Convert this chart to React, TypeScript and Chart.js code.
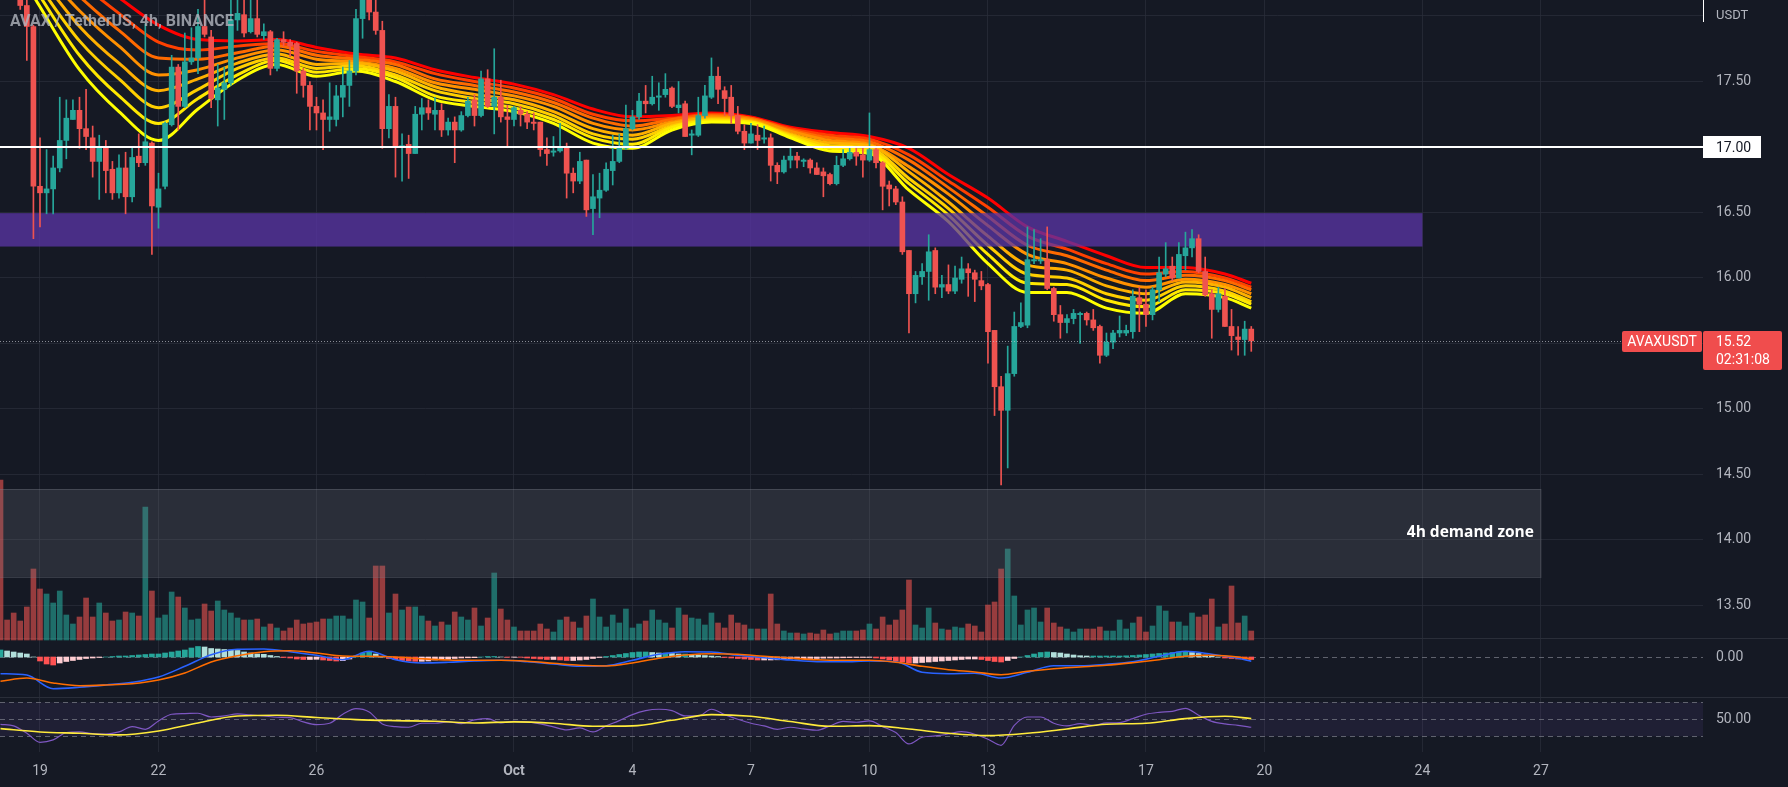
import React, { useEffect, useRef } from "react";
import { Chart, registerables } from "chart.js";

Chart.register(...registerables);

// ---------------- data (4h candles, AVAX / TetherUS) ----------------
const opens = [
  18.90,18.50,18.45,18.25,18.08,17.92,16.70,16.65,16.68,16.84,
  17.05,17.21,17.28,17.14,17.07,16.89,17.00,16.83,16.65,16.84,
  16.62,16.93,16.88,17.03,16.54,16.70,17.17,17.61,17.31,17.65,
  17.68,17.92,17.84,17.36,17.44,17.49,17.97,18.01,17.88,17.98,
  17.85,17.88,17.60,17.82,17.80,17.79,17.58,17.47,17.31,17.26,
  17.21,17.21,17.38,17.47,17.58,17.98,18.20,18.03,17.89,17.14,
  17.31,17.00,17.02,16.95,17.25,17.30,17.25,17.28,17.13,17.19,
  17.13,17.24,17.36,17.24,17.52,17.31,17.38,17.23,17.21,17.28,
  17.25,17.19,17.19,16.98,16.96,16.97,17.00,16.80,16.74,16.90,
  16.53,16.61,16.67,16.82,16.89,16.99,17.14,17.23,17.35,17.33,
  17.38,17.40,17.45,17.30,17.33,17.09,17.09,17.24,17.38,17.54,
  17.43,17.38,17.24,17.12,17.03,17.09,17.06,17.07,16.86,16.81,
  16.90,16.93,16.89,16.90,16.84,16.81,16.79,16.72,16.86,16.91,
  16.96,16.94,16.90,16.98,16.88,16.71,16.68,16.58,16.21,15.88,
  16.01,16.05,16.21,15.93,15.95,15.90,15.99,16.07,16.04,15.98,
  15.95,15.60,15.17,14.99,15.27,15.63,15.64,16.13,16.13,16.14,
  15.92,15.72,15.66,15.69,15.72,15.73,15.68,15.63,15.41,15.51,
  15.58,15.58,15.59,15.85,15.80,15.72,15.91,16.03,16.09,16.00,
  16.17,16.23,16.30,16.05,15.88,15.76,15.86,15.63,15.55,15.53,15.61,
];
const highs = [
  19.00,18.70,18.60,18.30,18.12,17.93,17.07,16.98,16.93,17.38,
  17.36,17.36,17.38,17.44,17.16,17.09,17.05,16.89,16.94,16.96,
  16.99,17.10,17.94,17.04,16.80,17.19,17.70,17.63,17.87,17.91,
  18.05,18.15,17.89,17.63,17.61,18.15,18.25,18.20,18.20,18.15,
  17.94,17.89,17.83,17.88,17.82,17.80,17.60,17.50,17.38,17.36,
  17.49,17.47,17.61,17.66,18.05,18.30,18.30,18.13,17.96,17.40,
  17.38,17.10,17.09,17.31,17.37,17.36,17.38,17.33,17.22,17.23,
  17.27,17.38,17.40,17.58,17.59,17.75,17.51,17.32,17.31,17.31,
  17.27,17.26,17.19,17.07,17.08,17.18,17.03,16.84,16.96,16.90,
  16.79,16.80,16.88,17.09,17.10,17.32,17.28,17.41,17.47,17.54,
  17.49,17.56,17.46,17.50,17.35,17.13,17.38,17.47,17.68,17.61,
  17.46,17.47,17.31,17.17,17.18,17.17,17.16,17.10,16.88,16.93,
  16.99,16.96,16.91,16.91,16.88,16.84,16.80,16.93,16.98,16.99,
  16.99,16.99,17.26,17.00,16.89,16.74,16.70,16.62,16.21,16.05,
  16.11,16.33,16.23,16.02,16.10,16.09,16.16,16.11,16.06,16.05,
  15.96,15.60,15.25,15.48,15.74,15.81,16.39,16.37,16.30,16.39,
  15.93,15.79,15.72,15.76,15.74,15.74,15.76,15.64,15.58,15.60,
  15.71,15.64,15.91,15.93,15.91,15.93,16.16,16.27,16.16,16.27,
  16.35,16.37,16.33,16.16,15.91,15.93,15.92,15.76,15.63,15.67,15.63,
];
const lows = [
  18.40,18.30,18.20,18.05,17.66,16.30,16.39,16.49,16.49,16.81,
  16.91,17.21,16.99,16.98,16.77,16.60,16.65,16.60,16.61,16.49,
  16.58,16.85,16.86,16.18,16.38,16.68,17.16,17.13,17.30,17.63,
  17.56,17.84,17.30,17.16,17.21,17.47,17.89,17.84,17.87,17.84,
  17.82,17.55,17.58,17.77,17.69,17.41,17.38,17.13,17.13,16.98,
  17.12,17.16,17.23,17.31,17.55,17.83,17.97,17.86,16.99,17.07,
  16.77,16.74,16.76,16.95,17.13,17.21,17.13,17.08,17.09,16.88,
  17.12,17.23,17.16,17.23,17.30,17.10,17.19,17.00,17.16,17.16,
  17.14,17.13,16.93,16.86,16.93,16.96,16.61,16.65,16.72,16.47,
  16.33,16.46,16.66,16.71,16.88,16.98,17.13,17.21,17.26,17.32,
  17.28,17.38,17.30,17.26,17.08,16.94,17.08,17.22,17.37,17.33,
  17.24,17.18,17.10,16.98,17.03,16.98,17.03,16.74,16.72,16.80,
  16.84,16.84,16.85,16.80,16.79,16.62,16.71,16.71,16.85,16.90,
  16.86,16.77,16.89,16.84,16.52,16.55,16.56,16.18,15.58,15.81,
  15.95,15.83,15.88,15.85,15.88,15.88,15.96,15.86,15.82,15.91,
  15.35,14.95,14.42,14.55,15.25,15.62,15.62,16.11,16.11,15.91,
  15.67,15.54,15.58,15.65,15.50,15.64,15.60,15.35,15.40,15.46,
  15.55,15.56,15.54,15.59,15.63,15.68,15.82,16.01,15.98,16.00,
  16.06,16.16,16.04,15.86,15.54,15.74,15.63,15.45,15.41,15.41,15.44,
];
const closes = [
  18.50,18.45,18.25,18.08,17.92,16.70,16.65,16.68,16.84,17.05,
  17.22,17.28,17.14,17.08,16.89,17.00,16.82,16.65,16.84,16.62,
  16.92,16.88,17.04,16.55,16.68,17.18,17.61,17.31,17.65,17.68,
  17.92,17.86,17.37,17.45,17.49,17.97,18.02,17.87,17.98,17.86,
  17.88,17.60,17.82,17.80,17.77,17.58,17.47,17.31,17.26,17.21,
  17.23,17.39,17.47,17.58,17.98,18.20,18.03,17.89,17.14,17.31,
  17.00,17.01,16.95,17.25,17.30,17.26,17.28,17.13,17.19,17.13,
  17.24,17.35,17.24,17.52,17.31,17.38,17.23,17.21,17.30,17.25,
  17.19,17.18,16.98,16.95,16.97,17.00,16.80,16.74,16.89,16.52,
  16.62,16.67,16.83,16.89,16.99,17.14,17.23,17.35,17.33,17.38,
  17.39,17.44,17.31,17.32,17.08,17.10,17.24,17.39,17.54,17.44,
  17.37,17.24,17.12,17.03,17.10,17.05,17.07,16.86,16.81,16.90,
  16.93,16.90,16.90,16.84,16.79,16.78,16.72,16.86,16.91,16.96,
  16.93,16.90,16.98,16.88,16.70,16.68,16.58,16.20,15.88,16.02,
  16.05,16.20,15.93,15.95,15.90,16.00,16.07,16.04,15.99,15.94,
  15.59,15.17,14.99,15.27,15.63,15.66,16.14,16.14,16.14,15.92,
  15.72,15.66,15.69,15.73,15.73,15.68,15.62,15.41,15.51,15.58,
  15.60,15.60,15.86,15.80,15.72,15.91,16.04,16.07,16.00,16.18,
  16.23,16.30,16.05,15.87,15.76,15.88,15.63,15.56,15.53,15.61,15.52,
];
// volume, thousand AVAX
const volumes = [
  160,20,27,19,33,71,51,46,37,49,
  25,16,23,42,23,37,27,19,20,28,
  27,24,133,49,22,25,48,43,32,20,
  21,36,29,39,30,27,22,20,20,21,
  13,16,12,9,12,20,16,17,18,21,
  21,24,24,21,40,38,22,74,74,27,
  46,30,33,33,24,19,14,18,15,28,
  23,20,32,14,22,67,31,20,13,9,
  9,9,16,11,8,20,23,18,12,24,
  41,23,13,25,17,31,12,16,19,30,
  20,17,12,32,25,22,21,15,27,17,
  12,25,17,15,11,11,11,46,16,9,
  7,7,6,7,6,10,6,7,9,9,
  9,10,16,11,23,15,20,30,60,15,
  12,32,17,11,10,13,12,16,14,8,
  35,38,71,91,44,15,30,32,18,32,
  17,13,11,8,11,11,11,13,9,9,
  20,11,17,23,8,14,34,29,18,18,
  14,27,23,25,41,13,16,54,17,24,9,
];
// EMA ribbon (fast -> slow), sampled every 6 candles plus the last candle
const ribbonYellow = [18.58,18.07,17.59,17.27,17.05,17.29,17.51,17.63,17.54,17.58,17.50,17.36,17.31,17.27,17.18,17.03,16.99,17.13,17.19,17.18,17.07,16.97,16.95,16.67,16.43,16.11,15.89,15.89,15.77,15.73,15.88,15.85,15.77];
const ribbonGold   = [18.61,18.15,17.70,17.39,17.18,17.37,17.55,17.66,17.57,17.60,17.53,17.39,17.34,17.30,17.21,17.07,17.02,17.15,17.20,17.19,17.08,16.99,16.97,16.72,16.48,16.18,15.96,15.95,15.83,15.78,15.91,15.88,15.80];
const ribbonAmber  = [18.64,18.22,17.81,17.52,17.30,17.44,17.60,17.68,17.60,17.62,17.55,17.43,17.37,17.33,17.24,17.10,17.06,17.16,17.21,17.19,17.09,17.01,16.99,16.76,16.53,16.25,16.03,16.00,15.88,15.83,15.94,15.90,15.82];
const ribbonSaffron= [18.67,18.30,17.92,17.64,17.43,17.52,17.64,17.71,17.63,17.64,17.58,17.46,17.40,17.36,17.27,17.14,17.09,17.18,17.22,17.20,17.10,17.03,17.01,16.81,16.58,16.32,16.10,16.06,15.94,15.88,15.97,15.93,15.85];
const ribbonOrange = [18.71,18.37,18.04,17.77,17.55,17.59,17.68,17.74,17.67,17.65,17.60,17.49,17.44,17.39,17.31,17.18,17.13,17.19,17.23,17.21,17.12,17.05,17.02,16.85,16.64,16.40,16.18,16.11,16.00,15.93,15.99,15.95,15.88];
const ribbonTangerine=[18.74,18.45,18.15,17.89,17.68,17.67,17.72,17.77,17.70,17.67,17.63,17.52,17.47,17.42,17.34,17.22,17.16,17.21,17.24,17.22,17.13,17.07,17.04,16.90,16.69,16.47,16.25,16.17,16.06,15.98,16.02,15.98,15.91];
const ribbonVermilion=[18.77,18.52,18.26,18.02,17.80,17.74,17.77,17.79,17.73,17.69,17.65,17.56,17.50,17.45,17.37,17.25,17.20,17.22,17.25,17.22,17.14,17.09,17.06,16.94,16.74,16.54,16.32,16.22,16.11,16.03,16.05,16.00,15.93];
const ribbonRed    = [18.80,18.60,18.37,18.14,17.93,17.82,17.81,17.82,17.76,17.71,17.68,17.59,17.53,17.48,17.40,17.29,17.23,17.24,17.26,17.23,17.15,17.11,17.08,16.99,16.79,16.61,16.39,16.28,16.17,16.08,16.08,16.03,15.96];
const ribbonAt = [...Array.from({ length: 32 }, (_, k) => k * 6), 190];

// MACD, sampled every 4 candles plus last
const macdLine = [-0.167,-0.18,-0.317,-0.303,-0.28,-0.253,-0.2,-0.093,0.023,0.077,0.08,0.053,0.017,-0.027,0.057,-0.027,-0.06,-0.053,-0.04,-0.033,-0.047,-0.07,-0.093,-0.087,-0.033,0.027,0.053,0.05,0.017,-0.007,-0.03,-0.047,-0.047,-0.04,-0.047,-0.153,-0.167,-0.163,-0.21,-0.153,-0.087,-0.087,-0.073,-0.047,0.007,0.057,0.027,-0.013,-0.043];
const macdSignal = [-0.243,-0.21,-0.26,-0.287,-0.28,-0.267,-0.23,-0.16,-0.05,0.013,0.053,0.063,0.04,0.01,0.007,0.0,-0.017,-0.03,-0.033,-0.033,-0.043,-0.063,-0.083,-0.09,-0.06,-0.013,0.02,0.033,0.027,0.007,-0.01,-0.027,-0.033,-0.033,-0.053,-0.093,-0.127,-0.15,-0.177,-0.143,-0.117,-0.1,-0.083,-0.057,-0.027,0.007,0.017,0.0,-0.02];
const macdAt = [...Array.from({ length: 48 }, (_, k) => k * 4), 190];
// MACD histogram, one per candle
const macdHist = [
  0.07,0.06,0.05,0.04,0.03,0.0,-0.04,-0.07,-0.08,-0.06,
  -0.045,-0.035,-0.025,-0.015,-0.01,-0.005,0.0,0.005,0.01,0.01,
  0.015,0.02,0.025,0.03,0.03,0.04,0.05,0.06,0.07,0.09,
  0.105,0.1,0.085,0.08,0.075,0.07,0.065,0.05,0.04,0.03,
  0.027,0.015,0.005,-0.005,-0.01,-0.02,-0.025,-0.025,-0.023,-0.03,
  -0.035,-0.04,-0.037,-0.02,0.01,0.04,0.05,0.03,0.0,-0.015,
  -0.027,-0.035,-0.04,-0.043,-0.043,-0.04,-0.03,-0.025,-0.023,-0.015,
  -0.01,-0.008,-0.007,0.0,0.005,0.005,0.0,-0.003,-0.002,-0.003,
  -0.01,-0.015,-0.02,-0.025,-0.025,-0.03,-0.035,-0.035,-0.03,-0.025,
  -0.015,-0.005,0.005,0.015,0.025,0.035,0.045,0.05,0.05,0.045,
  0.04,0.04,0.035,0.03,0.03,0.025,0.02,0.015,0.01,0.005,
  -0.005,-0.01,-0.015,-0.02,-0.025,-0.03,-0.03,-0.03,-0.028,-0.025,
  -0.02,-0.02,-0.018,-0.015,-0.015,-0.012,-0.01,-0.01,-0.008,-0.006,
  -0.005,-0.005,-0.004,-0.01,-0.02,-0.03,-0.04,-0.05,-0.06,-0.06,
  -0.055,-0.05,-0.045,-0.04,-0.035,-0.03,-0.025,-0.02,-0.02,-0.025,
  -0.035,-0.045,-0.05,-0.035,-0.015,0.0,0.015,0.03,0.045,0.05,
  0.045,0.04,0.03,0.02,0.013,0.01,0.01,0.01,0.01,0.01,
  0.01,0.012,0.015,0.02,0.025,0.03,0.035,0.04,0.045,0.05,
  0.05,0.045,0.035,0.02,0.01,0.0,-0.01,-0.015,-0.02,-0.022,-0.025,
];
// RSI every 2 candles, RSI-MA every 6 candles plus last
const rsiLine = [
  44.1,42.2,33.5,22.9,25.7,34.3,35.1,33.1,32.7,35.1,
  41.4,38.2,48,55.9,56.7,57.1,52.7,53.9,56.3,55.1,
  53.9,52.4,52,46.9,43.7,45.3,55.9,62.5,58.6,44.5,
  41.4,40.6,45.3,45.3,46.9,44.9,49.2,50.8,45.7,47.6,
  46.9,44.5,41,37.5,39.8,35.1,42.2,48.4,55.5,60.2,
  61.8,60.2,53.9,53.9,61.8,55.5,50,45.3,42.2,38.2,
  40.6,38.6,37.1,42.2,47.6,46.5,48,41.4,34.3,21,
  28.8,30.4,32.7,35.5,32.4,26.5,19.4,42.9,52.7,52.7,
  45.3,42.2,44.9,42.9,45.7,46.1,50.8,55.9,58.2,59.4,
  62.9,54.7,47.6,44.5,42.9,40.6,
];
const rsiAt = Array.from({ length: 96 }, (_, k) => k * 2);
const rsiMa = [39,35.1,33.5,31.6,36.3,45.7,53.9,54.7,52,49.6,48.4,47.6,45.7,46.9,45.3,41.8,42.2,48.8,55.5,53.5,47.3,41.8,42.5,38.6,33.5,30.8,33.5,38.6,44.1,45.3,50.8,53.5,50.8];
const rsiMaAt = [...Array.from({ length: 32 }, (_, k) => k * 6), 190];

// time axis (candle index of each labelled day) and labels
const tickCandles = [6, 24, 48, 78, 96, 114, 132, 150, 174, 192, 216, 234];
const tickLabels = ["19", "22", "26", "Oct", "4", "7", "10", "13", "17", "20", "24", "27"];
const priceTicks = [13.5, 14, 14.5, 15, 15.5, 16, 16.5, 17, 17.5, 18];
const hiddenPriceLabels = [15.5, 18];
const rsiLevels = [30, 50, 70];

// drawings
const purpleZone = { fromCandle: -2, toCandle: 216, low: 16.24, high: 16.495 };
const demandZone = { fromCandle: -2, toCandle: 234, low: 13.718, high: 14.389, label: "4h demand zone" };
const levelPrice = 17.0;
const lastPrice = 15.52;
const symbolName = "AVAXUSDT";
const countdown = "02:31:08";
const titleText = "AVAX / TetherUS, 4h, BINANCE";
const currency = "USDT";

// ---------------- view ----------------
const W = 1788;
const H = 787;
const AXIS_W = 85;
const TIME_H = 35;
const X_MIN = -0.076;
const X_MAX = 258.62;
const PRICE_MIN = 12.3816;
const PRICE_MAX = 18.1221;
const VOL_MIN = -112;
const VOL_MAX = 640;
const MACD_MIN = -0.95;
const MACD_MAX = 6.57;
const MACD_PANE_TOP = 0.19;
const RSI_MIN = 11.5;
const RSI_MAX = 896.2;
const RSI_PANE_TOP = 76.2;

const BG = "#151924";
const GRID = "rgba(42,46,57,0.75)";
const TEXT = "#b2b5be";
const UP = "#26a69a";
const DOWN = "#ef5350";
const FONT = "Roboto, 'Noto Sans', sans-serif";
const ribbonColors = ["#ff0000", "#ff4000", "#ff6a00", "#ff9000", "#ffb000", "#ffcf00", "#ffe800", "#ffff00"];

function zeroPad(s: any) {
  s.paddingTop = 0;
  s.paddingBottom = 0;
  s.paddingLeft = 0;
  s.paddingRight = 0;
}

export default function App() {
  const ref = useRef<HTMLCanvasElement | null>(null);

  useEffect(() => {
    document.body.style.margin = "0";
    document.body.style.background = BG;
    const canvas = ref.current;
    if (!canvas) return;

    const n = closes.length;
    const isUp = (i: number) => closes[i] >= opens[i];
    const candleColors = Array.from({ length: n }, (_, i) => (isUp(i) ? UP : DOWN));
    const volColors = Array.from({ length: n }, (_, i) => (isUp(i) ? "rgba(38,166,154,0.6)" : "rgba(239,83,80,0.6)"));
    const histColors = macdHist.map((v, i) => {
      const prev = i > 0 ? macdHist[i - 1] : v;
      if (v >= 0) return v >= prev ? "#26a69a" : "#b2dfdb";
      return v < prev ? "#ff5252" : "#ffcdd2";
    });

    const ribbons = [ribbonRed, ribbonVermilion, ribbonTangerine, ribbonOrange, ribbonSaffron, ribbonAmber, ribbonGold, ribbonYellow];

    const lineDs = (label: string, xs: number[], ys: number[], color: string, width: number, axis: string, order: number) => ({
      type: "line" as const,
      label,
      data: ys.map((v, k) => ({ x: xs[k], y: v })),
      borderColor: color,
      borderWidth: width,
      pointRadius: 0,
      fill: false,
      cubicInterpolationMode: "monotone" as const,
      yAxisID: axis,
      order,
    });

    const datasets: any[] = [
      {
        type: "bar",
        label: "volume",
        data: volumes.map((v, i) => ({ x: i, y: v })),
        backgroundColor: volColors,
        barThickness: 5,
        grouped: false,
        yAxisID: "vol",
        order: 100,
      },
      ...ribbons.map((r, k) => lineDs("ribbon" + k, ribbonAt, r, ribbonColors[k], 3, "y", 60 - k)),
      {
        type: "bar",
        label: "wicks",
        data: highs.map((h, i) => ({ x: i, y: [lows[i], h] })),
        backgroundColor: candleColors,
        barThickness: 1,
        grouped: false,
        yAxisID: "y",
        order: 3,
      },
      {
        type: "bar",
        label: "bodies",
        data: opens.map((o, i) => ({ x: i, y: [o, closes[i]] })),
        backgroundColor: candleColors,
        barThickness: 5,
        minBarLength: 1,
        grouped: false,
        yAxisID: "y",
        order: 2,
      },
      {
        type: "bar",
        label: "hist",
        data: macdHist.map((v, i) => ({ x: i, y: v })),
        backgroundColor: histColors,
        barThickness: 5,
        grouped: false,
        yAxisID: "macd",
        order: 20,
      },
      lineDs("macd", macdAt, macdLine, "#2962ff", 1.6, "macd", 19),
      lineDs("signal", macdAt, macdSignal, "#ff6d00", 1.6, "macd", 18),
      lineDs("rsi", rsiAt, rsiLine, "#7e57c2", 1.2, "rsi", 17),
      lineDs("rsiMa", rsiMaAt, rsiMa, "#ffeb3b", 1.6, "rsi", 16),
    ];

    const overlay = {
      id: "overlay",
      afterLayout(chart: any) {
        // the indicator scales take no layout width, but their labels sit in the price-scale column
        ["macd", "rsi"].forEach((id) => {
          const s = chart.scales[id];
          s.right = s.left + AXIS_W;
          s.width = AXIS_W;
        });
      },
      beforeDraw(chart: any) {
        const c = chart.ctx;
        c.save();
        c.fillStyle = BG;
        c.fillRect(0, 0, chart.width, chart.height);
        c.restore();
      },
      beforeDatasetsDraw(chart: any) {
        const c = chart.ctx;
        const a = chart.chartArea;
        const rs = chart.scales.rsi;
        const ms = chart.scales.macd;
        c.save();
        const y70 = rs.getPixelForValue(70);
        const y30 = rs.getPixelForValue(30);
        c.fillStyle = "rgba(126,87,194,0.1)";
        c.fillRect(a.left, y70, a.right - a.left, y30 - y70);
        c.setLineDash([5, 4]);
        c.strokeStyle = "rgba(120,123,134,0.75)";
        c.lineWidth = 1;
        const hline = (y: number) => {
          c.beginPath();
          c.moveTo(a.left, Math.round(y) + 0.5);
          c.lineTo(a.right, Math.round(y) + 0.5);
          c.stroke();
        };
        rsiLevels.forEach((v) => hline(rs.getPixelForValue(v)));
        hline(ms.getPixelForValue(0));
        c.setLineDash([]);
        c.strokeStyle = "#2a2e39";
        [ms.getPixelForValue(MACD_PANE_TOP), rs.getPixelForValue(RSI_PANE_TOP)].forEach((y) => {
          c.beginPath();
          c.moveTo(0, Math.round(y) + 0.5);
          c.lineTo(chart.width, Math.round(y) + 0.5);
          c.stroke();
        });
        c.restore();
      },
      beforeDatasetDraw(chart: any, args: any) {
        const ds = chart.data.datasets[args.index];
        if (ds.label !== "wicks") return;
        const c = chart.ctx;
        const a = chart.chartArea;
        const xs = chart.scales.x;
        const ys = chart.scales.y;
        c.save();
        c.beginPath();
        c.rect(a.left, a.top, a.right - a.left, a.bottom - a.top);
        c.clip();
        const x1 = xs.getPixelForValue(purpleZone.fromCandle);
        const x2 = xs.getPixelForValue(purpleZone.toCandle);
        const y1 = ys.getPixelForValue(purpleZone.high);
        const y2 = ys.getPixelForValue(purpleZone.low);
        c.fillStyle = "rgba(90,52,165,0.76)";
        c.fillRect(x1, y1, x2 - x1, y2 - y1);
        c.restore();
      },
      afterDatasetDraw(chart: any, args: any) {
        const ds = chart.data.datasets[args.index];
        if (ds.label !== "volume") return;
        const c = chart.ctx;
        const a = chart.chartArea;
        const xs = chart.scales.x;
        const ys = chart.scales.y;
        const x1 = Math.max(a.left, xs.getPixelForValue(demandZone.fromCandle));
        const x2 = xs.getPixelForValue(demandZone.toCandle);
        const y1 = ys.getPixelForValue(demandZone.high);
        const y2 = ys.getPixelForValue(demandZone.low);
        c.save();
        c.fillStyle = "rgba(120,123,134,0.22)";
        c.fillRect(x1, y1, x2 - x1, y2 - y1);
        c.strokeStyle = "rgba(120,123,134,0.35)";
        c.lineWidth = 1;
        c.strokeRect(x1 - 1, Math.round(y1) + 0.5, x2 - x1 + 1, Math.round(y2 - y1));
        c.restore();
      },
      afterDatasetsDraw(chart: any) {
        const c = chart.ctx;
        const a = chart.chartArea;
        const xs = chart.scales.x;
        const ys = chart.scales.y;
        c.save();
        // demand zone label
        const dzX2 = xs.getPixelForValue(demandZone.toCandle);
        const dzMid = (ys.getPixelForValue(demandZone.high) + ys.getPixelForValue(demandZone.low)) / 2;
        c.font = "bold 15.5px 'Open Sans', Roboto, sans-serif";
        c.fillStyle = "#ffffff";
        c.textAlign = "right";
        c.textBaseline = "middle";
        c.fillText(demandZone.label, dzX2 - 7, dzMid);

        // 17.00 level line
        const yl = Math.round(ys.getPixelForValue(levelPrice));
        c.fillStyle = "#ffffff";
        c.fillRect(a.left, yl - 1, a.right - a.left, 2);

        // last price dotted line
        const yp = Math.round(ys.getPixelForValue(lastPrice)) + 0.5;
        c.strokeStyle = "rgba(200,203,210,0.65)";
        c.lineWidth = 1;
        c.setLineDash([1, 2]);
        c.beginPath();
        c.moveTo(a.left, yp);
        c.lineTo(a.right - 81, yp);
        c.stroke();
        c.setLineDash([]);

        // level label
        c.fillStyle = "#ffffff";
        c.fillRect(a.right, yl - 11, 58, 22);
        c.fillStyle = "#131722";
        c.font = `14px ${FONT}`;
        c.textAlign = "left";
        c.textBaseline = "middle";
        c.fillText(levelPrice.toFixed(2), a.right + 13, yl + 1);

        // last price labels
        const red = "#f04d4d";
        c.fillStyle = red;
        c.beginPath();
        c.roundRect(a.right - 81, yp - 10.5, 80, 21, 2);
        c.fill();
        c.beginPath();
        c.roundRect(a.right, yp - 10.5, 79, 39, 2);
        c.fill();
        c.fillStyle = "#ffffff";
        c.font = `14px ${FONT}`;
        c.textAlign = "center";
        c.fillText(symbolName, a.right - 41, yp + 1);
        c.textAlign = "left";
        c.fillText(lastPrice.toFixed(2), a.right + 13, yp + 1);
        c.fillText(countdown, a.right + 13, yp + 19);

        // currency
        c.fillStyle = "#ffffff";
        c.fillRect(a.right, 0, 1, 22);
        c.fillStyle = TEXT;
        c.font = `13px ${FONT}`;
        c.fillText(currency, a.right + 13, 16);

        // title
        c.fillStyle = "rgba(178,181,190,0.8)";
        c.font = `bold 16px ${FONT}`;
        c.textBaseline = "alphabetic";
        c.fillText(titleText, 10, 26);
        c.restore();
      },
    };

    const chart = new Chart(canvas, {
      type: "bar",
      data: { datasets },
      options: {
        animation: false,
        responsive: false,
        maintainAspectRatio: false,
        devicePixelRatio: 1,
        events: [],
        layout: { padding: 0 },
        plugins: { legend: { display: false }, tooltip: { enabled: false } },
        scales: {
          x: {
            type: "linear",
            position: "bottom",
            min: X_MIN,
            max: X_MAX,
            offset: false,
            afterBuildTicks: (s: any) => {
              s.ticks = tickCandles.map((v) => ({ value: v }));
            },
            afterFit: (s: any) => {
              s.height = TIME_H;
              zeroPad(s);
            },
            ticks: {
              autoSkip: false,
              maxRotation: 0,
              padding: 11,
              color: TEXT,
              font: (ctx: any) => ({ family: FONT, size: 14, weight: ctx.tick && ctx.tick.value === 78 ? "bold" : "normal" }),
              callback: (v: any) => {
                const k = tickCandles.indexOf(Number(v));
                return k >= 0 ? tickLabels[k] : "";
              },
            },
            grid: { color: GRID, drawTicks: false, offset: false },
            border: { display: false },
          },
          macd: {
            type: "linear",
            position: "right",
            weight: 0,
            min: MACD_MIN,
            max: MACD_MAX,
            afterBuildTicks: (s: any) => {
              s.ticks = [{ value: 0 }];
            },
            afterFit: (s: any) => {
              s.width = 0;
              zeroPad(s);
            },
            ticks: { padding: 13, color: TEXT, font: { family: FONT, size: 14 }, callback: () => "0.00" },
            grid: { display: false, drawTicks: false },
            border: { display: false },
          },
          rsi: {
            type: "linear",
            position: "right",
            weight: 0,
            min: RSI_MIN,
            max: RSI_MAX,
            afterBuildTicks: (s: any) => {
              s.ticks = [{ value: 50 }];
            },
            afterFit: (s: any) => {
              s.width = 0;
              zeroPad(s);
            },
            ticks: { padding: 13, color: TEXT, font: { family: FONT, size: 14 }, callback: () => "50.00" },
            grid: { display: false, drawTicks: false },
            border: { display: false },
          },
          vol: {
            type: "linear",
            position: "right",
            display: false,
            min: VOL_MIN,
            max: VOL_MAX,
          },
          y: {
            type: "linear",
            position: "right",
            weight: 2,
            min: PRICE_MIN,
            max: PRICE_MAX,
            afterBuildTicks: (s: any) => {
              s.ticks = priceTicks.map((v) => ({ value: v }));
            },
            afterFit: (s: any) => {
              s.width = AXIS_W;
              zeroPad(s);
            },
            ticks: {
              padding: 13,
              color: TEXT,
              font: { family: FONT, size: 14 },
              callback: (v: any) => (hiddenPriceLabels.includes(Number(v)) ? "" : Number(v).toFixed(2)),
            },
            grid: { color: GRID, drawTicks: false },
            border: { display: false },
          },
        } as any,
      },
      plugins: [overlay],
    } as any);

    return () => chart.destroy();
  }, []);

  return (
    <div style={{ width: W, height: H, background: BG }}>
      <canvas ref={ref} width={W} height={H} style={{ display: "block", width: W, height: H }} />
    </div>
  );
}
